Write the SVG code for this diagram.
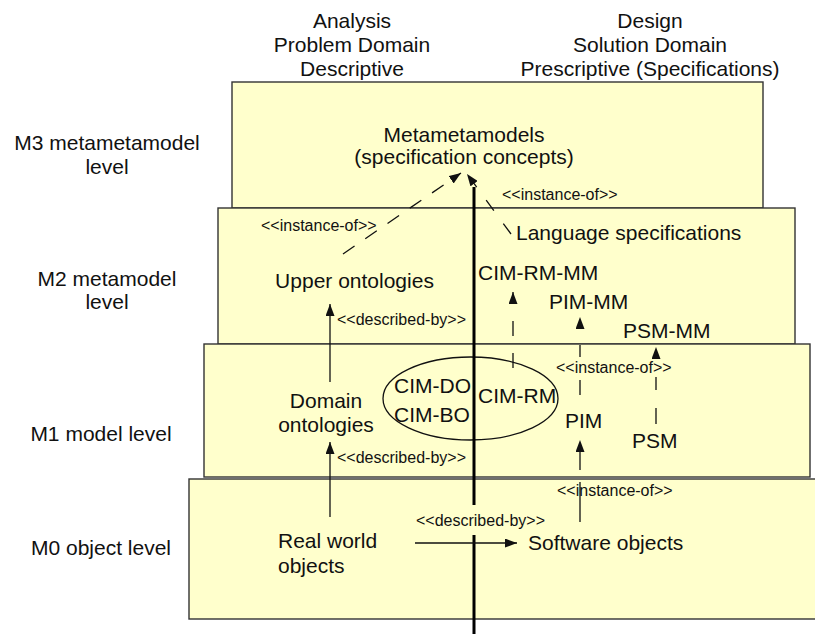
<svg xmlns="http://www.w3.org/2000/svg" width="815" height="634" viewBox="0 0 815 634">
  <style>
    text { font-family: "Liberation Sans", Arial, sans-serif; fill: #111; }
    .big { font-size: 21px; }
    .hdr { font-size: 21px; text-anchor: middle; }
    .lvl { font-size: 21px; text-anchor: middle; }
    .small { font-size: 16px; }
    .mid { text-anchor: middle; }
    .level { fill: #ffffcc; stroke: #333; stroke-width: 1.4; }
    .solid { fill: none; stroke: #111; stroke-width: 1.3; }
    .dash { fill: none; stroke: #111; stroke-width: 1.3; }
    .axis { fill: none; stroke: #000; stroke-width: 3; }
  </style>
  <defs>
    <marker id="arrow" viewBox="0 0 12 9" refX="12" refY="4.5" markerWidth="12" markerHeight="9" markerUnits="userSpaceOnUse" orient="auto">
      <path d="M0,0 L12,4.5 L0,9 z" fill="#111"/>
    </marker>
  </defs>

  <rect width="815" height="634" fill="#fff"/>

  <!-- column headings -->
  <g id="heading-analysis">
    <text class="hdr" x="352" y="28">Analysis</text>
    <text class="hdr" x="352" y="52">Problem Domain</text>
    <text class="hdr" x="352" y="76">Descriptive</text>
  </g>
  <g id="heading-design">
    <text class="hdr" x="650" y="28">Design</text>
    <text class="hdr" x="650" y="52">Solution Domain</text>
    <text class="hdr" x="650" y="76">Prescriptive (Specifications)</text>
  </g>

  <!-- level labels -->
  <g id="label-m3">
    <text class="lvl" x="107" y="150">M3 metametamodel</text>
    <text class="lvl" x="107" y="174">level</text>
  </g>
  <g id="label-m2">
    <text class="lvl" x="107" y="286">M2 metamodel</text>
    <text class="lvl" x="107" y="309">level</text>
  </g>
  <g id="label-m1">
    <text class="lvl" x="101" y="441">M1 model level</text>
  </g>
  <g id="label-m0">
    <text class="lvl" x="101" y="555">M0 object level</text>
  </g>

  <!-- level bands -->
  <g id="level-m3"><rect class="level" x="232" y="82" width="531" height="126"/></g>
  <g id="level-m2"><rect class="level" x="218" y="208" width="577" height="136"/></g>
  <g id="level-m1"><rect class="level" x="204" y="344" width="606" height="133"/></g>
  <g id="level-m0"><rect class="level" x="189" y="479" width="640" height="140"/></g>

  <!-- nodes -->
  <g id="metametamodels">
    <text class="big mid" x="464" y="142">Metametamodels</text>
    <text class="big mid" x="464" y="164">(specification concepts)</text>
  </g>
  <g id="language-specifications">
    <text class="big" x="516" y="240">Language specifications</text>
  </g>
  <g id="upper-ontologies">
    <text class="big mid" x="354.5" y="288">Upper ontologies</text>
  </g>
  <g id="cim-rm-mm"><text class="big" x="478" y="280">CIM-RM-MM</text></g>
  <g id="pim-mm"><text class="big" x="549" y="309">PIM-MM</text></g>
  <g id="psm-mm"><text class="big" x="623" y="338">PSM-MM</text></g>
  <g id="domain-ontologies">
    <text class="big mid" x="326" y="408">Domain</text>
    <text class="big mid" x="326" y="432">ontologies</text>
  </g>
  <g id="cim-group">
    <ellipse cx="470.5" cy="398.5" rx="87.5" ry="41.5" fill="none" stroke="#111" stroke-width="1.3"/>
    <text class="big" x="394" y="393">CIM-DO</text>
    <text class="big" x="394" y="422">CIM-BO</text>
    <text class="big" x="478" y="403">CIM-RM</text>
  </g>
  <g id="pim"><text class="big" x="565" y="428">PIM</text></g>
  <g id="psm"><text class="big" x="632" y="448">PSM</text></g>
  <g id="real-world-objects">
    <text class="big" x="278" y="548">Real world</text>
    <text class="big" x="278" y="573">objects</text>
  </g>
  <g id="software-objects">
    <text class="big" x="528" y="550">Software objects</text>
  </g>

  <!-- connectors -->
  <g id="connectors">
    <!-- analysis / design divide -->
    <path class="axis" d="M474,187 V505 M474,535 V634"/>
    <path class="dash" d="M343,254 L461,173" stroke-dasharray="14 13" marker-end="url(#arrow)"/>
    <path class="dash" d="M511,234 L467,174" stroke-dasharray="13 16" marker-end="url(#arrow)"/>
    <path class="solid" d="M330,382 V304" marker-end="url(#arrow)"/>
    <path class="solid" d="M330,517 V442" marker-end="url(#arrow)"/>
    <path class="dash" d="M513,368 V292" stroke-dasharray="15 17" marker-end="url(#arrow)"/>
    <path class="dash" d="M580,395 V317" stroke-dasharray="15 23 12 100" marker-end="url(#arrow)"/>
    <path class="dash" d="M656,424 V347" stroke-dasharray="16 18 13 100" marker-end="url(#arrow)"/>
    <path class="dash" d="M580,522 V440" stroke-dasharray="40 12 20 100" marker-end="url(#arrow)"/>
    <path class="solid" d="M415,543 H517" marker-end="url(#arrow)"/>
    <text class="small" x="502" y="200">&lt;&lt;instance-of&gt;&gt;</text>
    <text class="small" x="261" y="231">&lt;&lt;instance-of&gt;&gt;</text>
    <text class="small" x="337" y="325">&lt;&lt;described-by&gt;&gt;</text>
    <text class="small" x="556" y="373">&lt;&lt;instance-of&gt;&gt;</text>
    <text class="small" x="337" y="463">&lt;&lt;described-by&gt;&gt;</text>
    <text class="small" x="557" y="496">&lt;&lt;instance-of&gt;&gt;</text>
    <text class="small" x="416" y="526">&lt;&lt;described-by&gt;&gt;</text>
  </g>
</svg>
